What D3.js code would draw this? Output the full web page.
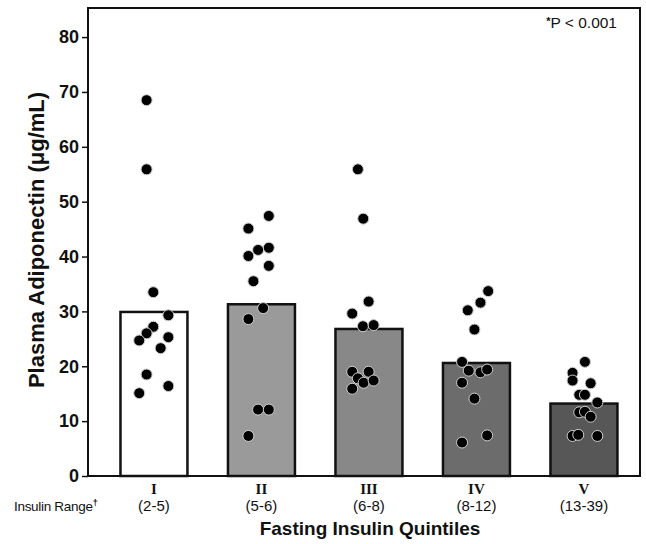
<!DOCTYPE html>
<html>
<head>
<meta charset="utf-8">
<script src="https://cdn.jsdelivr.net/npm/d3@7"></script>
<style>
  body { margin: 0; background: #fff; }
  svg { display: block; }
</style>
</head>
<body>
<div id="chart"></div>
<script>
// quintile categories
const quintiles = ['I', 'II', 'III', 'IV', 'V'];
const insulinRanges = ['(2-5)', '(5-6)', '(6-8)', '(8-12)', '(13-39)'];
const yTicks = [0, 10, 20, 30, 40, 50, 60, 70, 80];

// mean adiponectin per quintile (bar height)
const means = [29.9, 31.3, 26.8, 20.6, 13.2];

// individual subjects (value, horizontal jitter within the bar)
const valuesI = [68.5, 55.9, 33.5, 29.3, 27.2, 26.0, 24.7, 25.3, 23.3, 18.5, 16.4, 15.1];
const jitterI = [-0.22, -0.22, -0.02, 0.43, -0.02, -0.22, -0.44, 0.43, 0.2, -0.22, 0.43, -0.44];
const valuesII = [47.4, 45.1, 41.6, 41.2, 40.1, 38.3, 35.5, 30.6, 28.6, 12.1, 12.1, 7.3];
const jitterII = [0.22, -0.39, 0.22, -0.1, -0.39, 0.22, -0.24, 0.05, -0.39, -0.1, 0.22, -0.39];
const valuesIII = [55.9, 46.9, 31.8, 29.6, 27.3, 27.5, 19.0, 19.0, 17.8, 17.0, 17.4, 15.9];
const jitterIII = [-0.33, -0.17, -0.01, -0.5, -0.18, 0.14, -0.5, -0.01, -0.33, -0.16, 0.14, -0.5];
const valuesIV = [33.7, 31.6, 30.2, 26.7, 20.8, 19.2, 18.9, 19.4, 17.0, 14.1, 7.4, 6.1];
const jitterIV = [0.35, 0.12, -0.26, -0.06, -0.43, -0.23, 0.12, 0.32, -0.43, -0.06, 0.32, -0.43];
const valuesV = [20.8, 18.8, 17.4, 16.9, 14.8, 14.8, 13.4, 11.6, 11.7, 10.8, 7.3, 7.5, 7.3];
const jitterV = [0.03, -0.34, -0.34, 0.2, -0.14, 0.03, 0.4, -0.14, 0.03, 0.2, -0.34, -0.17, 0.4];

const barColors = ['#ffffff', '#9a9a9a', '#888888', '#6c6c6c', '#575757'];

const groups = [
  [valuesI, jitterI], [valuesII, jitterII], [valuesIII, jitterIII],
  [valuesIV, jitterIV], [valuesV, jitterV],
];
const points = [];
groups.forEach(([vals, jit], gi) => {
  vals.forEach((v, i) => points.push({ q: quintiles[gi], value: v, jitter: jit[i] }));
});

const W = 646;
const H = 544;
const frame = { left: 88, right: 640, top: 8, bottom: 476 };

const svg = d3.select('#chart').append('svg')
  .attr('width', W)
  .attr('height', H)
  .style('font-family', '"Liberation Sans", Arial, sans-serif');

const y = d3.scaleLinear()
  .domain([0, 85.3])
  .range([frame.bottom, frame.top]);

const x = d3.scaleBand()
  .domain(quintiles)
  .range([frame.left, frame.right])
  .paddingInner(0.377)
  .paddingOuter(0.256)
  .align(0.59);

const jitterScale = d3.scaleLinear()
  .domain([-1, 1])
  .range([-x.bandwidth() / 2, x.bandwidth() / 2]);

// frame
svg.append('rect')
  .attr('x', frame.left)
  .attr('y', frame.top)
  .attr('width', frame.right - frame.left)
  .attr('height', frame.bottom - frame.top)
  .attr('fill', 'none')
  .attr('stroke', '#111')
  .attr('stroke-width', 2);

// y axis
const yAxis = svg.append('g')
  .attr('transform', `translate(${frame.left},0)`)
  .call(d3.axisLeft(y).tickValues(yTicks).tickSize(6).tickPadding(3));
yAxis.select('.domain').remove();
yAxis.selectAll('.tick line').attr('stroke', '#111').attr('stroke-width', 1.5);
yAxis.selectAll('.tick text')
  .attr('fill', '#111')
  .style('font-size', '18px')
  .style('font-weight', 'bold')
  .style('font-family', '"Liberation Sans", Arial, sans-serif');

// bars
svg.append('g')
  .selectAll('rect')
  .data(means)
  .enter()
  .append('rect')
  .attr('x', (d, i) => x(quintiles[i]))
  .attr('y', (d) => y(d))
  .attr('width', x.bandwidth())
  .attr('height', (d) => y(0) - y(d))
  .attr('fill', (d, i) => barColors[i])
  .attr('stroke', '#111')
  .attr('stroke-width', 2.5);

// zero line over the bars
svg.append('line')
  .attr('x1', frame.left)
  .attr('x2', frame.right)
  .attr('y1', y(0))
  .attr('y2', y(0))
  .attr('stroke', '#111')
  .attr('stroke-width', 2);

// individual points
svg.append('g')
  .selectAll('circle')
  .data(points)
  .enter()
  .append('circle')
  .attr('cx', (d) => x(d.q) + x.bandwidth() / 2 + jitterScale(d.jitter))
  .attr('cy', (d) => y(d.value))
  .attr('r', 5.5)
  .attr('fill', '#000')
  .attr('stroke', '#d0d0d0')
  .attr('stroke-width', 1);

// x labels
const xl = svg.append('g');
xl.selectAll('.roman')
  .data(quintiles)
  .enter()
  .append('text')
  .attr('x', (d) => x(d) + x.bandwidth() / 2)
  .attr('y', 494)
  .attr('text-anchor', 'middle')
  .style('font-family', '"Liberation Serif", "Times New Roman", serif')
  .style('font-weight', 'bold')
  .style('font-size', '15px')
  .attr('fill', '#111')
  .text((d) => d);

xl.selectAll('.range')
  .data(insulinRanges)
  .enter()
  .append('text')
  .attr('x', (d, i) => x(quintiles[i]) + x.bandwidth() / 2)
  .attr('y', 511)
  .attr('text-anchor', 'middle')
  .style('font-size', '15px')
  .attr('fill', '#111')
  .text((d) => d);

const ir = svg.append('text')
  .attr('x', 14)
  .attr('y', 511)
  .style('font-size', '13.5px')
  .style('letter-spacing', '-0.3px')
  .attr('fill', '#111')
  .text('Insulin Range');
ir.append('tspan')
  .attr('dy', -5)
  .style('font-size', '9px')
  .style('font-weight', 'bold')
  .text('†');

svg.append('text')
  .attr('x', 370)
  .attr('y', 535)
  .attr('text-anchor', 'middle')
  .style('font-size', '19px')
  .style('font-weight', 'bold')
  .attr('fill', '#111')
  .text('Fasting Insulin Quintiles');

// y title
svg.append('text')
  .attr('transform', 'translate(44,240) rotate(-90)')
  .attr('text-anchor', 'middle')
  .style('font-size', '22px')
  .style('font-weight', 'bold')
  .attr('fill', '#111')
  .text('Plasma Adiponectin (μg/mL)');

// p value note
const pv = svg.append('text')
  .attr('x', 617)
  .attr('y', 28)
  .attr('text-anchor', 'end')
  .style('font-size', '15.5px')
  .attr('fill', '#111');
pv.append('tspan')
  .attr('dy', -3)
  .style('font-size', '11px')
  .style('font-weight', 'bold')
  .text('*');
pv.append('tspan')
  .attr('dy', 3)
  .text('P < 0.001');
</script>
</body>
</html>
